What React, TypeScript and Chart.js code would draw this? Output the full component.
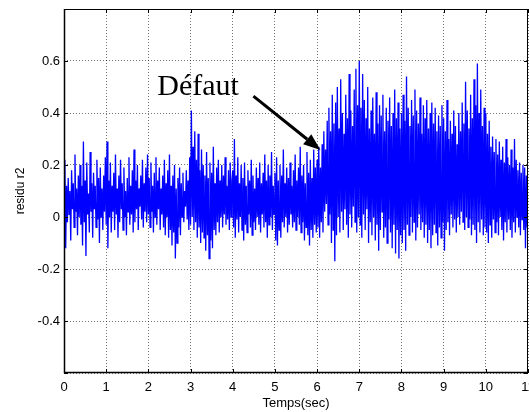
import React, { useEffect, useRef } from "react";
import { Chart, registerables } from "chart.js";

Chart.register(...registerables);

const SAMPLE_STEP = 0.02;

const seg0 = [0.08,0.22,-0.12,0.12,-0.02,0.15,0.01,0.1,-0.09,0.18,0.03,0.13,-0.04,0.24,0.02,0.11,-0.07,0.16,0.0,0.2,-0.03,0.12,-0.11,0.29,-0.02,0.14,-0.15,0.21,0.01,0.09,-0.06,0.25,0.02,0.13,-0.08,0.17,0.03,0.12,-0.04,0.22,-0.01,0.15,-0.1,0.19,0.0,0.11,-0.05,0.16,0.02,0.23];
const seg1 = [-0.03,0.29,-0.12,0.14,0.0,0.21,-0.06,0.12,0.02,0.17,-0.05,0.24,0.01,0.11,-0.08,0.16,-0.02,0.22,0.03,0.13,-0.05,0.19,0.0,0.1,-0.07,0.15,0.02,0.23,-0.03,0.12,0.01,0.18,-0.06,0.26,-0.02,0.14,0.03,0.2,-0.05,0.11,0.04,0.16,-0.01,0.22,-0.04,0.13,0.02,0.19,-0.02,0.24];
const seg2 = [0.01,0.15,-0.04,0.21,0.02,0.12,-0.06,0.17,0.0,0.23,-0.03,0.14,0.03,0.19,-0.05,0.11,0.01,0.16,-0.04,0.22,-0.07,0.13,0.0,0.18,-0.08,0.24,-0.05,0.12,-0.11,0.16,-0.06,0.2,-0.16,0.11,-0.1,0.15,-0.04,0.19,-0.07,0.13,0.0,0.17,-0.02,0.1,0.04,0.18,-0.01,0.14,-0.05,0.23];
const seg3 = [-0.03,0.41,0.0,0.27,-0.05,0.33,-0.02,0.22,-0.08,0.32,-0.04,0.18,-0.1,0.26,-0.06,0.2,-0.08,0.16,-0.13,0.25,-0.07,0.15,-0.16,0.21,-0.09,0.17,-0.12,0.27,-0.05,0.13,-0.07,0.19,-0.02,0.22,-0.06,0.14,0.0,0.2,-0.04,0.16,0.01,0.23,-0.03,0.12,-0.01,0.18,-0.05,0.21,0.0,0.14];
const seg4 = [0.18,-0.04,0.3,-0.08,0.16,-0.01,0.23,-0.06,0.13,0.0,0.2,-0.05,0.15,-0.09,0.21,-0.03,0.12,-0.06,0.18,0.01,0.14,-0.04,0.22,-0.07,0.16,-0.02,0.11,-0.05,0.19,0.0,0.15,-0.03,0.21,-0.06,0.13,0.01,0.17,-0.04,0.24,-0.02,0.14,-0.08,0.2,-0.03,0.16,0.0,0.25,-0.05,0.12,0.01];
const seg5 = [0.17,-0.09,0.23,-0.11,0.14,-0.05,0.2,-0.08,0.16,-0.02,0.26,-0.04,0.13,0.0,0.19,-0.06,0.15,-0.03,0.21,0.01,0.12,-0.04,0.18,-0.02,0.24,-0.05,0.14,0.0,0.19,-0.03,0.27,-0.06,0.16,-0.02,0.2,-0.09,0.13,-0.04,0.25,-0.07,0.17,-0.11,0.22,-0.05,0.15,-0.08,0.26,-0.03,0.19,-0.06];
const seg6 = [0.22,-0.04,0.27,-0.08,0.19,-0.02,0.28,-0.06,0.33,0.02,0.26,0.05,0.37,-0.03,0.42,0.01,0.33,-0.1,0.47,-0.05,0.36,-0.17,0.44,-0.07,0.5,0.0,0.34,-0.06,0.53,0.02,0.4,-0.05,0.32,0.03,0.47,-0.03,0.38,-0.08,0.55,0.01,0.41,-0.04,0.35,0.04,0.49,-0.02,0.57,-0.06,0.43,0.0];
const seg7 = [0.6,-0.03,0.42,-0.08,0.55,0.01,0.45,-0.05,0.38,0.03,0.5,-0.1,0.34,-0.02,0.41,-0.07,0.46,0.0,0.32,-0.09,0.48,-0.03,0.36,-0.13,0.43,-0.05,0.39,0.02,0.47,-0.08,0.33,-0.04,0.42,-0.1,0.37,-0.01,0.46,-0.06,0.35,-0.12,0.4,-0.03,0.49,-0.14,0.38,-0.05,0.44,-0.16,0.34,-0.07];
const seg8 = [0.4,-0.1,0.47,-0.05,0.37,-0.13,0.54,-0.03,0.42,-0.07,0.35,0.0,0.45,-0.06,0.39,-0.02,0.49,-0.09,0.41,-0.04,0.36,0.01,0.46,-0.05,0.32,-0.02,0.43,-0.08,0.38,-0.03,0.45,-0.1,0.34,-0.05,0.4,-0.12,0.44,-0.07,0.36,-0.03,0.42,-0.06,0.33,-0.11,0.39,-0.04,0.35,-0.08,0.43,-0.02];
const seg9 = [0.38,-0.13,0.33,-0.05,0.45,-0.02,0.3,-0.07,0.37,0.01,0.32,-0.04,0.41,-0.01,0.35,-0.06,0.28,0.0,0.4,-0.03,0.33,0.02,0.44,-0.02,0.36,-0.05,0.52,0.0,0.41,-0.04,0.34,-0.01,0.47,-0.07,0.38,-0.03,0.53,-0.05,0.43,-0.1,0.59,-0.02,0.4,-0.06,0.49,-0.01,0.35,-0.07,0.42,-0.04];
const seg10 = [0.4,-0.06,0.32,-0.1,0.37,-0.03,0.27,-0.08,0.31,-0.01,0.25,-0.06,0.3,-0.02,0.24,-0.07,0.29,0.0,0.22,-0.05,0.27,-0.09,0.21,-0.02,0.3,-0.06,0.23,-0.01,0.2,-0.05,0.26,-0.08,0.19,-0.02,0.3,-0.06,0.22,0.0,0.18,-0.04,0.21,-0.07,0.17,-0.01,0.2,-0.05,0.19,-0.12,0.16,-0.04,0.21];

const residu = [...seg0, ...seg1, ...seg2, ...seg3, ...seg4, ...seg5, ...seg6, ...seg7, ...seg8, ...seg9, ...seg10];

const xTicks = [0, 1, 2, 3, 4, 5, 6, 7, 8, 9, 10, 11];
const yTicks = [-0.6, -0.4, -0.2, 0, 0.2, 0.4, 0.6, 0.8];
const yTickLabels = ["", "-0.4", "-0.2", "0", "0.2", "0.4", "0.6", ""];

const annotationText = "Défaut";
const annotationTextPos = { x: 2.21, y: 0.469 };
const arrowFrom = { x: 4.49, y: 0.465 };
const arrowTo = { x: 6.08, y: 0.258 };

const frameAndArrow = {
  id: "frameAndArrow",
  afterDraw(chart: any) {
    const { ctx, chartArea: a, scales } = chart;
    const xs = scales.x;
    const ys = scales.y;
    ctx.save();
    ctx.strokeStyle = "#000";
    ctx.lineWidth = 1;
    ctx.setLineDash([]);
    ctx.strokeRect(a.left + 0.5, a.top + 0.5, a.right - a.left - 1, a.bottom - a.top - 1);
    ctx.lineWidth = 1.5;
    ctx.beginPath();
    ctx.moveTo(a.left + 0.5, a.top);
    ctx.lineTo(a.left + 0.5, a.bottom - 0.5);
    ctx.lineTo(a.right, a.bottom - 0.5);
    ctx.stroke();
    ctx.lineWidth = 1;
    const tl = 4;
    ctx.beginPath();
    xTicks.forEach((v) => {
      const px = Math.round(xs.getPixelForValue(v)) + 0.5;
      ctx.moveTo(px, a.bottom);
      ctx.lineTo(px, a.bottom - tl);
      ctx.moveTo(px, a.top);
      ctx.lineTo(px, a.top + tl);
    });
    yTicks.forEach((v) => {
      const py = Math.round(ys.getPixelForValue(v)) + 0.5;
      ctx.moveTo(a.left, py);
      ctx.lineTo(a.left + tl, py);
      ctx.moveTo(a.right, py);
      ctx.lineTo(a.right - tl, py);
    });
    ctx.stroke();
    ctx.fillStyle = "#000";
    ctx.font = "30px 'Liberation Serif', 'Times New Roman', serif";
    ctx.textBaseline = "alphabetic";
    ctx.textAlign = "left";
    ctx.fillText(annotationText, xs.getPixelForValue(annotationTextPos.x), ys.getPixelForValue(annotationTextPos.y));
    const x1 = xs.getPixelForValue(arrowFrom.x);
    const y1 = ys.getPixelForValue(arrowFrom.y);
    const x2 = xs.getPixelForValue(arrowTo.x);
    const y2 = ys.getPixelForValue(arrowTo.y);
    const ang = Math.atan2(y2 - y1, x2 - x1);
    const headLen = 17;
    const headHalf = 6.5;
    const bx = x2 - headLen * Math.cos(ang);
    const by = y2 - headLen * Math.sin(ang);
    ctx.strokeStyle = "#000";
    ctx.lineWidth = 3;
    ctx.beginPath();
    ctx.moveTo(x1, y1);
    ctx.lineTo(bx, by);
    ctx.stroke();
    ctx.beginPath();
    ctx.moveTo(x2, y2);
    ctx.lineTo(bx + headHalf * Math.sin(ang), by - headHalf * Math.cos(ang));
    ctx.lineTo(bx - headHalf * Math.sin(ang), by + headHalf * Math.cos(ang));
    ctx.closePath();
    ctx.fill();
    ctx.restore();
  },
};

export default function App() {
  const ref = useRef<HTMLCanvasElement | null>(null);
  useEffect(() => {
    if (!ref.current) return;
    const points = residu.map((v, i) => ({ x: +(i * SAMPLE_STEP).toFixed(2), y: v }));
    const font = { family: "'Liberation Sans', Arial, sans-serif", size: 13 };
    const chart = new Chart(ref.current, {
      type: "line",
      data: {
        datasets: [
          {
            data: points,
            borderColor: "#0000ff",
            borderWidth: 1.3,
            pointRadius: 0,
            tension: 0,
            fill: false,
          },
        ],
      },
      options: {
        animation: false,
        responsive: false,
        events: [],
        layout: { padding: { top: 9, right: 1, left: 0, bottom: 0 } },
        plugins: { legend: { display: false }, tooltip: { enabled: false } },
        scales: {
          x: {
            type: "linear",
            min: 0,
            max: 11,
            afterBuildTicks: (s: any) => {
              s.ticks = xTicks.map((v) => ({ value: v }));
            },
            afterFit: (s: any) => {
              s.height = 39;
              s.paddingLeft = 0;
              s.paddingRight = 0;
            },
            ticks: {
              color: "#000",
              font,
              padding: 7,
              maxRotation: 0,
              autoSkip: false,
              callback: (v: any) => String(v),
            },
            grid: { color: "rgba(0,0,0,0.55)", drawTicks: false, lineWidth: 1 },
            border: { display: false, dash: [1, 2] },
            title: {
              display: true,
              text: "Temps(sec)",
              color: "#000",
              font,
              padding: { top: 0, bottom: 1 },
            },
          },
          y: {
            type: "linear",
            min: -0.6,
            max: 0.8,
            afterBuildTicks: (s: any) => {
              s.ticks = yTicks.map((v) => ({ value: v }));
            },
            afterFit: (s: any) => {
              s.width = 64;
              s.paddingTop = 0;
              s.paddingBottom = 0;
            },
            ticks: {
              color: "#000",
              font,
              padding: 4,
              autoSkip: false,
              callback: (_v: any, i: number) => yTickLabels[i],
            },
            grid: { color: "rgba(0,0,0,0.55)", drawTicks: false, lineWidth: 1 },
            border: { display: false, dash: [1, 2] },
            title: {
              display: true,
              text: "residu r2",
              color: "#000",
              font: { family: "'Liberation Sans', Arial, sans-serif", size: 12 },
              padding: { top: 13, bottom: 0 },
            },
          },
        },
      },
      plugins: [frameAndArrow],
    } as any);
    return () => chart.destroy();
  }, []);
  return (
    <div style={{ position: "fixed", left: 0, top: 0, width: 529, height: 412, background: "#fff" }}>
      <canvas ref={ref} width={529} height={412} style={{ display: "block" }} />
    </div>
  );
}
